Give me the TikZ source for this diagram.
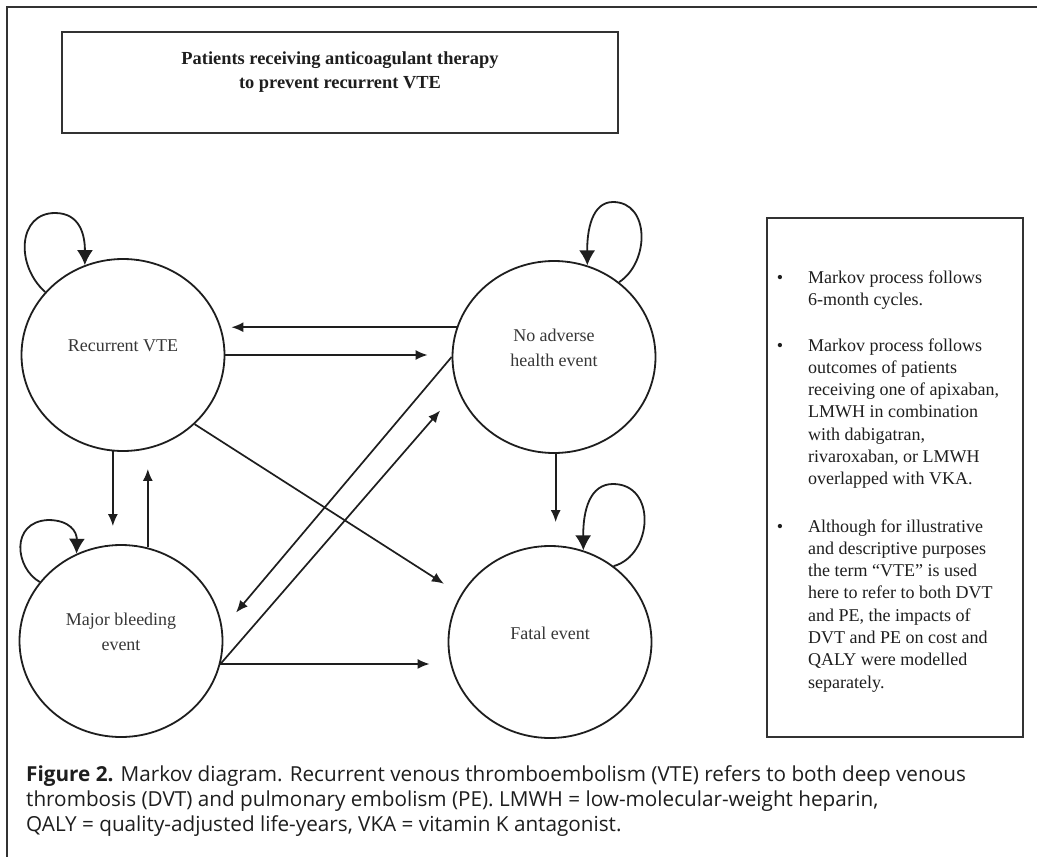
\documentclass[tikz,border=0pt]{standalone}
\usepackage{fontspec}
\setmainfont{Liberation Serif}
\newfontfamily\capfont{Open Sans}
\usetikzlibrary{arrows.meta,shapes.geometric}
\definecolor{linec}{RGB}{30,30,30}
\definecolor{labelc}{RGB}{55,55,55}
\definecolor{boxc}{RGB}{50,50,50}
\definecolor{capc}{RGB}{30,30,30}
\begin{document}
\begin{tikzpicture}[x=1pt,y=-1pt,
  state/.style={ellipse, draw=linec, line width=1.8pt, minimum width=203pt, minimum height=192pt, inner sep=0pt},
  lab/.style={font=\fontsize{18}{25}\selectfont, text=labelc, align=center, inner sep=0pt, yshift=9pt},
  trans/.style={draw=linec, line width=1.7pt, -{Latex[length=12pt,width=10pt]}},
  selfloop/.style={draw=linec, line width=1.8pt, -{Latex[length=15pt,width=16pt]}},
  infotext/.style={anchor=base west, inner sep=0pt, align=left, font=\fontsize{18}{22.3}\selectfont, text=capc},
  bul/.style={anchor=base, inner sep=0pt, font=\fontsize{18}{22.3}\selectfont, text=capc},
  frame/.style={draw=boxc, line width=2pt}
]
\useasboundingbox (0,0) rectangle (1037,857);
\fill[white] (0,0) rectangle (1037,857);

% outer frame
\draw[frame] (1037,7) -- (7,7) -- (7,857);

% header box
\node[draw=boxc, line width=2pt, minimum width=556pt, minimum height=101pt, inner sep=0pt,
  label={[font=\bfseries\fontsize{18.4}{24}\selectfont, text=capc, align=center, inner sep=0pt, yshift=10pt]center:{Patients receiving anticoagulant therapy\\to prevent recurrent VTE}}]
  (top) at (340,82.5) {};

% states
\node[state, label={[lab]center:{Recurrent VTE}}] (rv) at (123,355) {};
\node[state, label={[lab]center:{Major bleeding\\event}}] (mb) at (121,641) {};
\node[state, label={[lab]center:{No adverse\\health event}}] (na) at (554,357) {};
\node[state, label={[lab]center:{Fatal event}}] (fe) at (550,642) {};

% self loops
\draw[selfloop] (rv.141) .. controls (15,265) and (18,213) .. (55,213) .. controls (80,213) and (85,235) .. (rv.113);
\draw[selfloop] (mb.144) .. controls (15,568) and (10,522) .. (48,520) .. controls (70,520) and (77,532) .. (mb.117);
\draw[selfloop] (na.49) .. controls (650,262) and (650,202) .. (613,202) .. controls (592,202) and (587,230) .. (na.70);
\draw[selfloop] (fe.50) .. controls (653,555) and (657,484) .. (613,484) .. controls (590,484) and (583,510) .. (fe.70);

% transitions
\draw[trans, shorten >=6pt] (na.163) -- (na.163 -| rv.east);
\draw[trans, shorten >=24pt] (rv.east) -- (rv.east -| na.west);
\draw[trans, shorten >=20pt] (rv.-44) -- (fe.152);
\draw[trans, shorten >=18pt] (rv.-96) -- (rv.-96 |- mb.north);
\draw[trans, shorten >=17pt] (mb.74) -- (mb.74 |- rv.south);
\draw[trans, shorten >=27pt] (mb.-13) -- (na.-161);
\draw[trans, shorten >=21pt] (na.west) -- (mb.7);
\draw[trans, shorten >=18pt] (mb.-13) -- (mb.-13 -| fe.west);
\draw[trans, shorten >=23pt] (na.-89) -- (na.-89 |- fe.north);

% info box (multi-line nodes: base anchor = baseline of last line)
\node[draw=boxc, line width=2pt, minimum width=256pt, minimum height=519pt, inner sep=0pt] (info) at (895,477.5) {};
\node[bul] (b1) at (780,283) {•};
\node[infotext] (t1) at (808,305.3) {Markov process follows\\6-month cycles.};
\node[bul] (b2) at (780,351) {•};
\node[infotext] (t2) at (808,484.8) {Markov process follows\\outcomes of patients\\receiving one of apixaban,\\LMWH in combination\\with dabigatran,\\rivaroxaban, or LMWH\\overlapped with VKA.};
\node[bul] (b3) at (780,532) {•};
\node[infotext] (t3) at (808,688.1) {Although for illustrative\\and descriptive purposes\\the term “VTE” is used\\here to refer to both DVT\\and PE, the impacts of\\DVT and PE on cost and\\QALY were modelled\\separately.};

% caption
\node[anchor=base west, inner sep=0pt, align=left, font=\capfont\fontsize{20.7}{25}\selectfont, text=capc] (cap) at (26,831)
  {\textbf{Figure 2.} Markov diagram. Recurrent venous thromboembolism (VTE) refers to both deep venous\\thrombosis (DVT) and pulmonary embolism (PE). LMWH = low-molecular-weight heparin,\\QALY = quality-adjusted life-years, VKA = vitamin K antagonist.};
\end{tikzpicture}
\end{document}
